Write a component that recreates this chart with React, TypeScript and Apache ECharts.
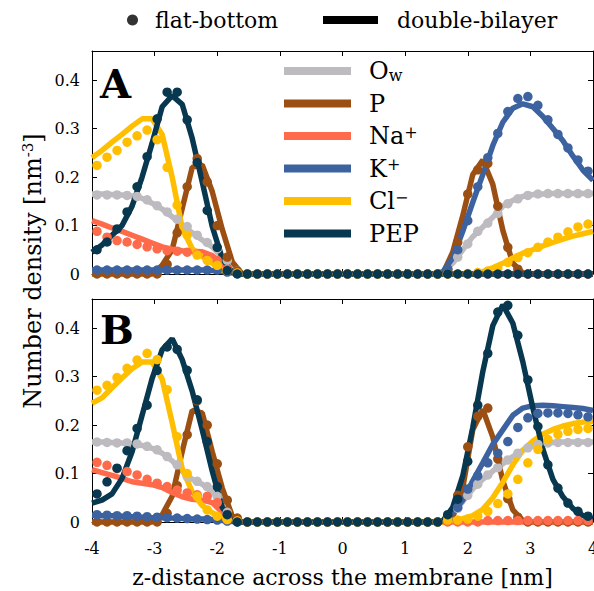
import React, { useEffect, useRef } from "react";
import * as echarts from "echarts";

// x positions (nm)
const zDots = [-3.92, -3.76, -3.6, -3.44, -3.28, -3.12, -2.96, -2.8, -2.64, -2.48, -2.32, -2.16, -2.0, -1.84, -1.68,
  -1.52, -1.36, -1.2, -1.04, -0.88, -0.72, -0.56, -0.4, -0.24, -0.08, 0.08, 0.24, 0.4, 0.56, 0.72, 0.88, 1.04, 1.2, 1.36, 1.52,
  1.68, 1.84, 2.0, 2.16, 2.32, 2.48, 2.64, 2.8, 2.96, 3.12, 3.28, 3.44, 3.6, 3.76, 3.92];
const zLine = [-4, -3.84, -3.68, -3.52, -3.36, -3.2, -3.04, -2.88, -2.72, -2.56, -2.4, -2.24, -2.08, -1.92, -1.76,
  -1.6, -1.44, -1.28, -1.12, -0.96, -0.8, -0.64, -0.48, -0.32, -0.16, 0, 0.16, 0.32, 0.48, 0.64, 0.8, 0.96, 1.12, 1.28, 1.44,
  1.6, 1.76, 1.92, 2.08, 2.24, 2.4, 2.56, 2.72, 2.88, 3.04, 3.2, 3.36, 3.52, 3.68, 3.84, 4];

// ---------- Panel A ----------
const A_Ow_dot = [0.163, 0.163, 0.163, 0.162, 0.160, 0.153, 0.141, 0.128, 0.113, 0.098, 0.080, 0.065, 0.052, 0.028, 0.006,
  0, 0, 0, 0, 0, 0, 0, 0, 0, 0, 0, 0, 0, 0, 0, 0, 0, 0, 0, 0,
  0.008, 0.035, 0.062, 0.088, 0.105, 0.125, 0.145, 0.155, 0.162, 0.165, 0.166, 0.166, 0.166, 0.166, 0.166];
const A_Ow_line = [0.165, 0.165, 0.164, 0.163, 0.161, 0.156, 0.146, 0.134, 0.118, 0.102, 0.085, 0.070, 0.056, 0.034, 0.008,
  0, 0, 0, 0, 0, 0, 0, 0, 0, 0, 0, 0, 0, 0, 0, 0, 0, 0, 0, 0,
  0.003, 0.022, 0.050, 0.077, 0.097, 0.117, 0.140, 0.152, 0.160, 0.164, 0.165, 0.166, 0.166, 0.166, 0.166, 0.166];
const A_P_dot = [0, 0, 0, 0, 0, 0, 0, 0.020, 0.085, 0.180, 0.238, 0.190, 0.100, 0.035, 0.006,
  0, 0, 0, 0, 0, 0, 0, 0, 0, 0, 0, 0, 0, 0, 0, 0, 0, 0, 0, 0,
  0.010, 0.065, 0.165, 0.215, 0.228, 0.140, 0.055, 0.010, 0, 0, 0, 0, 0, 0, 0];
const A_P_line = [0, 0, 0, 0, 0, 0, 0, 0.018, 0.050, 0.135, 0.220, 0.225, 0.170, 0.092, 0.025,
  0, 0, 0, 0, 0, 0, 0, 0, 0, 0, 0, 0, 0, 0, 0, 0, 0, 0, 0, 0,
  0, 0.045, 0.120, 0.205, 0.235, 0.185, 0.090, 0.022, 0.002, 0, 0, 0, 0, 0, 0, 0];
const A_Na_dot = [0.088, 0.076, 0.069, 0.066, 0.061, 0.056, 0.052, 0.048, 0.047, 0.045, 0.041, 0.035, 0.028, 0.010, 0.002,
  0, 0, 0, 0, 0, 0, 0, 0, 0, 0, 0, 0, 0, 0, 0, 0, 0, 0, 0, 0,
  0, 0, 0, 0, 0, 0, 0, 0, 0, 0, 0, 0, 0, 0, 0];
const A_Na_line = [0.110, 0.103, 0.095, 0.088, 0.080, 0.072, 0.064, 0.056, 0.051, 0.048, 0.047, 0.046, 0.038, 0.020, 0.005,
  0, 0, 0, 0, 0, 0, 0, 0, 0, 0, 0, 0, 0, 0, 0, 0, 0, 0, 0, 0,
  0, 0, 0, 0, 0, 0, 0, 0, 0, 0, 0, 0, 0, 0, 0, 0];
const A_K_dot = [0.008, 0.008, 0.008, 0.008, 0.008, 0.008, 0.008, 0.008, 0.008, 0.008, 0.008, 0.008, 0.008, 0.004, 0.001,
  0, 0, 0, 0, 0, 0, 0, 0, 0, 0, 0, 0, 0, 0, 0, 0, 0, 0, 0, 0,
  0.010, 0.050, 0.110, 0.180, 0.240, 0.290, 0.335, 0.362, 0.366, 0.348, 0.318, 0.288, 0.260, 0.235, 0.212];
const A_K_line = [0.008, 0.008, 0.008, 0.008, 0.008, 0.008, 0.008, 0.008, 0.008, 0.008, 0.008, 0.008, 0.007, 0.005, 0.002,
  0, 0, 0, 0, 0, 0, 0, 0, 0, 0, 0, 0, 0, 0, 0, 0, 0, 0, 0, 0,
  0.004, 0.033, 0.088, 0.148, 0.205, 0.265, 0.313, 0.342, 0.351, 0.345, 0.325, 0.300, 0.275, 0.243, 0.214, 0.193];
const A_Cl_dot = [0.224, 0.241, 0.255, 0.272, 0.285, 0.297, 0.277, 0.220, 0.142, 0.080, 0.039, 0.028, 0.018, 0.007, 0.002,
  0, 0, 0, 0, 0, 0, 0, 0, 0, 0, 0, 0, 0, 0, 0, 0, 0, 0, 0, 0,
  0, 0, 0.001, 0.003, 0.006, 0.012, 0.024, 0.034, 0.044, 0.055, 0.066, 0.076, 0.087, 0.097, 0.103];
const A_Cl_line = [0.240, 0.255, 0.272, 0.288, 0.305, 0.320, 0.320, 0.288, 0.200, 0.095, 0.052, 0.036, 0.022, 0.008, 0.002,
  0, 0, 0, 0, 0, 0, 0, 0, 0, 0, 0, 0, 0, 0, 0, 0, 0, 0, 0, 0,
  0, 0, 0, 0, 0.005, 0.013, 0.022, 0.033, 0.043, 0.050, 0.058, 0.065, 0.072, 0.078, 0.083, 0.088];
const A_PEP_dot = [0.050, 0.066, 0.093, 0.128, 0.180, 0.242, 0.320, 0.375, 0.375, 0.318, 0.230, 0.131, 0.055, 0.007, 0,
  0, 0, 0, 0, 0, 0, 0, 0, 0, 0, 0, 0, 0, 0, 0, 0, 0, 0, 0, 0,
  0, 0, 0, 0, 0, 0, 0, 0, 0, 0, 0, 0, 0, 0, 0];
const A_PEP_line = [0.045, 0.060, 0.080, 0.100, 0.140, 0.200, 0.270, 0.345, 0.368, 0.350, 0.280, 0.190, 0.098, 0.032, 0.003,
  0, 0, 0, 0, 0, 0, 0, 0, 0, 0, 0, 0, 0, 0, 0, 0, 0, 0, 0, 0,
  0, 0, 0, 0, 0, 0, 0, 0, 0, 0, 0, 0, 0, 0, 0, 0];

// ---------- Panel B ----------
const B_Ow_dot = [0.165, 0.164, 0.163, 0.163, 0.161, 0.156, 0.149, 0.135, 0.118, 0.094, 0.084, 0.073, 0.053, 0.020, 0.004,
  0, 0, 0, 0, 0, 0, 0, 0, 0, 0, 0, 0, 0, 0, 0, 0, 0, 0, 0, 0,
  0.006, 0.028, 0.055, 0.078, 0.097, 0.112, 0.128, 0.142, 0.153, 0.160, 0.163, 0.164, 0.164, 0.164, 0.164];
const B_Ow_line = [0.165, 0.165, 0.164, 0.163, 0.161, 0.158, 0.152, 0.142, 0.126, 0.105, 0.088, 0.078, 0.063, 0.035, 0.006,
  0, 0, 0, 0, 0, 0, 0, 0, 0, 0, 0, 0, 0, 0, 0, 0, 0, 0, 0, 0,
  0.002, 0.018, 0.042, 0.068, 0.088, 0.105, 0.120, 0.135, 0.148, 0.157, 0.162, 0.164, 0.165, 0.165, 0.165, 0.165];
const B_P_dot = [0, 0, 0, 0, 0, 0, 0, 0.018, 0.075, 0.180, 0.250, 0.200, 0.120, 0.045, 0.008,
  0, 0, 0, 0, 0, 0, 0, 0, 0, 0, 0, 0, 0, 0, 0, 0, 0, 0, 0, 0,
  0.005, 0.055, 0.155, 0.218, 0.235, 0.130, 0.048, 0.010, 0, 0, 0, 0, 0, 0, 0];
const B_P_line = [0, 0, 0, 0, 0, 0, 0, 0.015, 0.053, 0.145, 0.230, 0.225, 0.145, 0.070, 0.012,
  0, 0, 0, 0, 0, 0, 0, 0, 0, 0, 0, 0, 0, 0, 0, 0, 0, 0, 0, 0,
  0, 0.010, 0.070, 0.190, 0.232, 0.175, 0.085, 0.025, 0.003, 0, 0, 0, 0, 0, 0, 0];
const B_Na_dot = [0.123, 0.117, 0.110, 0.104, 0.097, 0.088, 0.080, 0.073, 0.066, 0.060, 0.056, 0.053, 0.040, 0.015, 0.002,
  0, 0, 0, 0, 0, 0, 0, 0, 0, 0, 0, 0, 0, 0, 0, 0, 0, 0, 0, 0,
  0, 0, 0, 0, 0.003, 0.003, 0.003, 0.003, 0.003, 0.003, 0.003, 0.003, 0.003, 0.003, 0.003];
const B_Na_line = [0.108, 0.102, 0.096, 0.090, 0.083, 0.080, 0.077, 0.071, 0.061, 0.052, 0.047, 0.045, 0.040, 0.020, 0.004,
  0, 0, 0, 0, 0, 0, 0, 0, 0, 0, 0, 0, 0, 0, 0, 0, 0, 0, 0, 0,
  0, 0, 0, 0, 0, 0, 0, 0, 0, 0, 0, 0, 0, 0, 0, 0];
const B_K_dot = [0.015, 0.014, 0.013, 0.013, 0.012, 0.011, 0.010, 0.009, 0.008, 0.007, 0.006, 0.005, 0.004, 0.002, 0,
  0, 0, 0, 0, 0, 0, 0, 0, 0, 0, 0, 0, 0, 0, 0, 0, 0, 0, 0, 0,
  0.005, 0.030, 0.068, 0.095, 0.122, 0.142, 0.166, 0.195, 0.215, 0.224, 0.225, 0.225, 0.224, 0.221, 0.217];
const B_K_line = [0.014, 0.013, 0.013, 0.012, 0.011, 0.010, 0.009, 0.009, 0.008, 0.007, 0.006, 0.006, 0.005, 0.003, 0.001,
  0, 0, 0, 0, 0, 0, 0, 0, 0, 0, 0, 0, 0, 0, 0, 0, 0, 0, 0, 0,
  0.002, 0.020, 0.045, 0.085, 0.122, 0.160, 0.190, 0.220, 0.235, 0.240, 0.241, 0.240, 0.238, 0.236, 0.234, 0.230];
const B_Cl_dot = [0.272, 0.282, 0.298, 0.317, 0.334, 0.348, 0.335, 0.273, 0.176, 0.100, 0.053, 0.025, 0.012, 0.005, 0.002,
  0, 0, 0, 0, 0, 0, 0, 0, 0, 0, 0, 0, 0, 0, 0, 0, 0, 0, 0, 0,
  0.004, 0.004, 0.006, 0.012, 0.022, 0.038, 0.058, 0.088, 0.122, 0.150, 0.170, 0.181, 0.187, 0.191, 0.193];
const B_Cl_line = [0.245, 0.256, 0.277, 0.297, 0.316, 0.330, 0.330, 0.295, 0.205, 0.110, 0.062, 0.034, 0.019, 0.008, 0.002,
  0, 0, 0, 0, 0, 0, 0, 0, 0, 0, 0, 0, 0, 0, 0, 0, 0, 0, 0, 0,
  0, 0.003, 0.007, 0.013, 0.026, 0.050, 0.082, 0.118, 0.148, 0.167, 0.181, 0.191, 0.198, 0.203, 0.206, 0.208];
const B_PEP_dot = [0.058, 0.083, 0.111, 0.147, 0.193, 0.241, 0.313, 0.361, 0.356, 0.313, 0.252, 0.166, 0.073, 0.015, 0,
  0, 0, 0, 0, 0, 0, 0, 0, 0, 0, 0, 0, 0, 0, 0, 0, 0, 0, 0, 0,
  0.015, 0.047, 0.125, 0.241, 0.348, 0.433, 0.447, 0.385, 0.293, 0.197, 0.118, 0.070, 0.039, 0.022, 0.012];
const B_PEP_line = [0.039, 0.045, 0.058, 0.090, 0.145, 0.220, 0.296, 0.355, 0.378, 0.335, 0.270, 0.190, 0.105, 0.030, 0.002,
  0, 0, 0, 0, 0, 0, 0, 0, 0, 0, 0, 0, 0, 0, 0, 0, 0, 0, 0, 0,
  0.002, 0.030, 0.095, 0.195, 0.310, 0.405, 0.448, 0.410, 0.330, 0.235, 0.150, 0.088, 0.052, 0.028, 0.013, 0.006];

const speciesKeys = ["Ow", "P", "Na+", "K+", "Cl-", "PEP"];
const speciesLabels: Record<string, string> = {
  Ow: "O{sub|w}",
  P: "P",
  "Na+": "Na{sup|+}",
  "K+": "K{sup|+}",
  "Cl-": "Cl{sup|\u2212}",
  PEP: "PEP",
};
const speciesColors = ["#bdbbbf", "#9c4f13", "#ff6a4a", "#3c62a0", "#ffbe00", "#08384f"];

const A_dots = [A_Ow_dot, A_P_dot, A_Na_dot, A_K_dot, A_Cl_dot, A_PEP_dot];
const A_lines = [A_Ow_line, A_P_line, A_Na_line, A_K_line, A_Cl_line, A_PEP_line];
const B_dots = [B_Ow_dot, B_P_dot, B_Na_dot, B_K_dot, B_Cl_dot, B_PEP_dot];
const B_lines = [B_Ow_line, B_P_line, B_Na_line, B_K_line, B_Cl_line, B_PEP_line];

const FONT = "DejaVu Serif";

export default function App() {
  const ref = useRef<HTMLDivElement>(null);
  useEffect(() => {
    const chart = echarts.init(ref.current!, null, { renderer: "svg" });
    const series: any[] = [];
    const panels = [
      { dots: A_dots, lines: A_lines, ax: 0 },
      { dots: B_dots, lines: B_lines, ax: 2 },
    ];
    panels.forEach((p) => {
      speciesKeys.forEach((k, i) => {
        series.push({
          name: k,
          type: "line",
          xAxisIndex: p.ax,
          yAxisIndex: p.ax,
          data: zLine.map((z, j) => [z, p.lines[i][j]]),
          showSymbol: false,
          symbol: "none",
          lineStyle: { width: 5.5, color: speciesColors[i] },
          itemStyle: { color: speciesColors[i] },
          clip: false,
          silent: true,
          z: 2,
        });
        series.push({
          name: k,
          type: "scatter",
          xAxisIndex: p.ax,
          yAxisIndex: p.ax,
          data: zDots.map((z, j) => [z, p.dots[i][j]]),
          symbolSize: 9.5,
          itemStyle: { color: speciesColors[i], opacity: 1 },
          clip: false,
          silent: true,
          z: 2,
        });
      });
    });
    series.push({ name: "flat-bottom", type: "scatter", data: [], itemStyle: { color: "#000" } });
    series.push({ name: "double-bilayer", type: "line", data: [], lineStyle: { color: "#000" }, itemStyle: { color: "#000" } });

    const axLine = { show: true, onZero: false, lineStyle: { color: "#000", width: 1 } };
    const axTick = { show: true, inside: true, length: 5, lineStyle: { color: "#000", width: 1 } };
    const xAxis = (gridIndex: number, position: string, showLabel: boolean) => ({
      type: "value",
      gridIndex,
      position,
      min: -4,
      max: 4,
      interval: 1,
      axisLine: axLine,
      axisTick: axTick,
      splitLine: { show: false },
      axisLabel: { show: showLabel, margin: 18, fontFamily: FONT, fontSize: 16, color: "#000" },
    });
    const yAxis = (gridIndex: number, position: string, showLabel: boolean) => ({
      type: "value",
      gridIndex,
      position,
      min: 0,
      max: 0.46,
      interval: 0.1,
      axisLine: axLine,
      axisTick: axTick,
      splitLine: { show: false },
      axisLabel: {
        show: showLabel,
        showMaxLabel: false,
        margin: 12,
        fontFamily: FONT,
        fontSize: 16,
        color: "#000",
        formatter: (v: number) => (v === 0 ? "0" : v.toFixed(1)),
      },
    });

    const xB = {
      ...xAxis(1, "bottom", true),
      name: "z-distance across the membrane [nm]",
      nameLocation: "middle",
      nameGap: 44,
      nameTextStyle: { fontFamily: FONT, fontSize: 22, color: "#000" },
    };

    const option: any = {
      animation: false,
      backgroundColor: "#fff",
      grid: [
        { left: 92, top: 51, width: 501, height: 223, outerBoundsMode: "none", containLabel: false },
        { left: 92, top: 299, width: 501, height: 223, outerBoundsMode: "none", containLabel: false },
      ],
      xAxis: [xAxis(0, "bottom", false), xAxis(0, "top", false), xB, xAxis(1, "top", false)],
      yAxis: [yAxis(0, "left", true), yAxis(0, "right", false), yAxis(1, "left", true), yAxis(1, "right", false)],
      legend: [
        {
          data: [{ name: "flat-bottom", icon: "circle" }],
          left: 127,
          top: 9,
          padding: 0,
          itemWidth: 11,
          itemHeight: 11,
          selectedMode: false,
          itemStyle: { borderWidth: 0 },
          textStyle: { fontFamily: FONT, fontSize: 22, color: "#000", padding: [0, 0, 0, 12] },
        },
        {
          data: [{ name: "double-bilayer", icon: "rect" }],
          left: 323,
          top: 9,
          padding: 0,
          itemWidth: 55,
          itemHeight: 8,
          selectedMode: false,
          itemStyle: { borderWidth: 0 },
          textStyle: { fontFamily: FONT, fontSize: 22, color: "#000", padding: [0, 0, 0, 14] },
        },
        {
          data: speciesKeys,
          orient: "vertical",
          left: 284,
          top: 59,
          padding: 0,
          itemWidth: 67,
          itemHeight: 8,
          itemGap: 8.5,
          icon: "rect",
          selectedMode: false,
          itemStyle: { borderWidth: 0 },
          formatter: (n: string) => speciesLabels[n],
          textStyle: {
            fontFamily: FONT,
            fontSize: 24,
            lineHeight: 24,
            color: "#000",
            padding: [0, 0, 0, 13],
            rich: {
              sub: { fontFamily: FONT, fontSize: 16, lineHeight: 8, verticalAlign: "bottom", color: "#000" },
              sup: { fontFamily: FONT, fontSize: 16, lineHeight: 8, verticalAlign: "top", color: "#000" },
            },
          },
        },
      ],
      graphic: [
        {
          type: "text",
          x: 100,
          y: 83,
          z: 100,
          style: { text: "A", fontFamily: FONT, fontSize: 40, fontWeight: "bold", fill: "#000", align: "left", verticalAlign: "middle" },
        },
        {
          type: "text",
          x: 100,
          y: 329,
          z: 100,
          style: { text: "B", fontFamily: FONT, fontSize: 40, fontWeight: "bold", fill: "#000", align: "left", verticalAlign: "middle" },
        },
        {
          type: "text",
          x: 33,
          y: 271,
          rotation: Math.PI / 2,
          style: {
            text: "Number density [nm{sup|-3}]",
            fontFamily: FONT,
            fontSize: 24,
            lineHeight: 26,
            fill: "#000",
            align: "center",
            verticalAlign: "middle",
            rich: {
              sup: { fontFamily: FONT, fontSize: 15, lineHeight: 10, verticalAlign: "top", fill: "#000" },
            },
          },
        },
      ],
      series,
    };
    chart.setOption(option);
    return () => chart.dispose();
  }, []);
  return <div ref={ref} style={{ position: "absolute", left: 0, top: 0, width: 594, height: 591 }} />;
}
